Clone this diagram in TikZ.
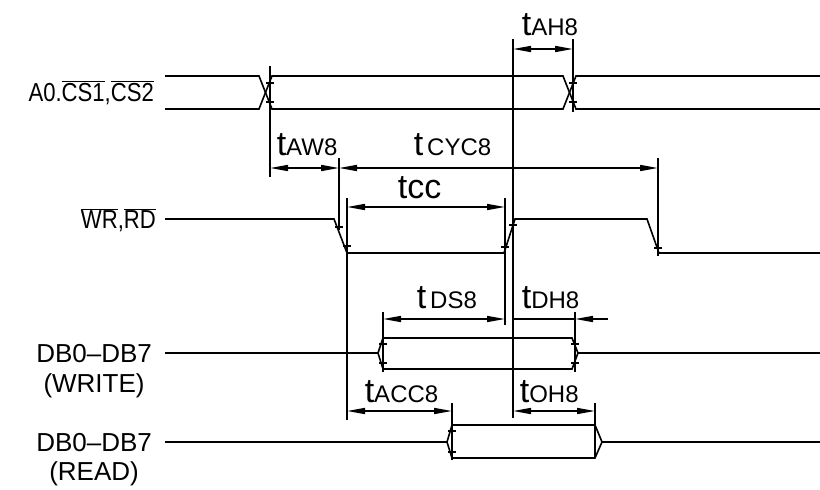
\documentclass[tikz,border=0pt]{standalone}
\usepackage{fontspec}
\setmainfont{Liberation Sans}
\newfontfamily\cadnarrow[FakeStretch=0.85]{Liberation Sans}
\usetikzlibrary{arrows.meta}

\newcommand{\tlab}[1]{{\fontsize{34}{34}\selectfont t}{\fontsize{24}{24}\selectfont #1}}
\newcommand{\ovl}[1]{$\overline{\mbox{#1}}$}

\begin{document}
\begin{tikzpicture}[x=1pt,y=-1pt,line width=1.6pt,
  dim/.style={{Triangle[length=18pt,width=6pt]}-{Triangle[length=18pt,width=6pt]}},
  sname/.style={anchor=base east,font=\fontsize{26}{26}\selectfont},
  tname/.style={anchor=base west,inner sep=0pt}]
  \useasboundingbox (0,0) rectangle (820,490);

  % signals
  \draw (165,76) -- (259,76) -- (272,109) -- (563,109) -- (576,76) -- (820,76);
  \draw (165,109) -- (259,109) -- (272,76) -- (563,76) -- (576,109) -- (820,109);

  \draw (165,219) -- (334,219) -- (347,253) -- (504,253) -- (515,219) -- (647,219) -- (659,253) -- (820,253);

  \draw (165,353) -- (378,353) -- (383,338) -- (572,338) -- (578,353) -- (820,353);
  \draw (378,353) -- (383,369) -- (572,369) -- (578,353);

  \draw (165,442) -- (447,442) -- (452,425) -- (595,425) -- (602,442) -- (820,442);
  \draw (447,442) -- (452,458) -- (595,458) -- (602,442);

  % extension lines
  \draw (270,66) -- (270,177);
  \draw (573,39) -- (573,112);
  \draw (513,39) -- (513,418);
  \draw (339,158) -- (339,230);
  \draw (347,198) -- (347,420);
  \draw (505,198) -- (505,325);
  \draw (658,158) -- (658,256);
  \draw (383,312) -- (383,372);
  \draw (575,312) -- (575,372);
  \draw (452,403) -- (452,460);
  \draw (595,403) -- (595,458);

  \foreach \x/\y in {270/83,270/102,573/83,573/102,339/227,347/246,505/247,513/225,
                     658/248,383/344,383/363,575/344,575/363,452/431,452/452}
    \draw[line width=1.1pt] (\x-4,\y) -- (\x+4,\y);

  % timing
  \draw[dim] (513,49) -- (573,49);
  \draw[dim] (270,168) -- (339,168);
  \draw[dim] (339,168) -- (658,168);
  \draw[dim] (347,207) -- (505,207);
  \draw[dim] (383,319) -- (505,319);
  \draw (513,319) -- (575,319);
  \draw[-{Triangle[length=18pt,width=6pt]}] (608,319) -- (575,319);
  \draw[dim] (347,411) -- (452,411);
  \draw[dim] (513,411) -- (595,411);

  \node[tname] (tah) at (521,35) {\tlab{AH8}};
  \node[tname] (taw) at (276,155) {\tlab{AW8}};
  \node[tname] (tcyc) at (413,155) {\tlab{\,CYC8}};
  \node[tname,font=\fontsize{34}{34}\selectfont] (tcc) at (397,198) {tcc};
  \node[tname] (tds) at (416,308) {\tlab{\,DS8}};
  \node[tname] (tdh) at (521,308) {\tlab{DH8}};
  \node[tname] (tacc) at (364,402) {\tlab{ACC8}};
  \node[tname] (toh) at (519,402) {\tlab{OH8}};

  \node[sname,font=\fontsize{26}{26}\cadnarrow] (cs) at (158,101) {A0.\ovl{CS1},\ovl{CS2}};
  \node[sname,font=\fontsize{26}{26}\cadnarrow] (wr) at (160,228) {\ovl{WR},\ovl{RD}};
  \node[sname] (dbw) at (156,362) {DB0--DB7};
  \node[anchor=base,font=\fontsize{26}{26}\selectfont] (dbwn) at ([yshift=-30pt]dbw.base) {(WRITE)};
  \node[sname] (dbr) at (156,451) {DB0--DB7};
  \node[anchor=base,font=\fontsize{26}{26}\selectfont] (dbrn) at ([yshift=-29pt]dbr.base) {(READ)};
\end{tikzpicture}
\end{document}
